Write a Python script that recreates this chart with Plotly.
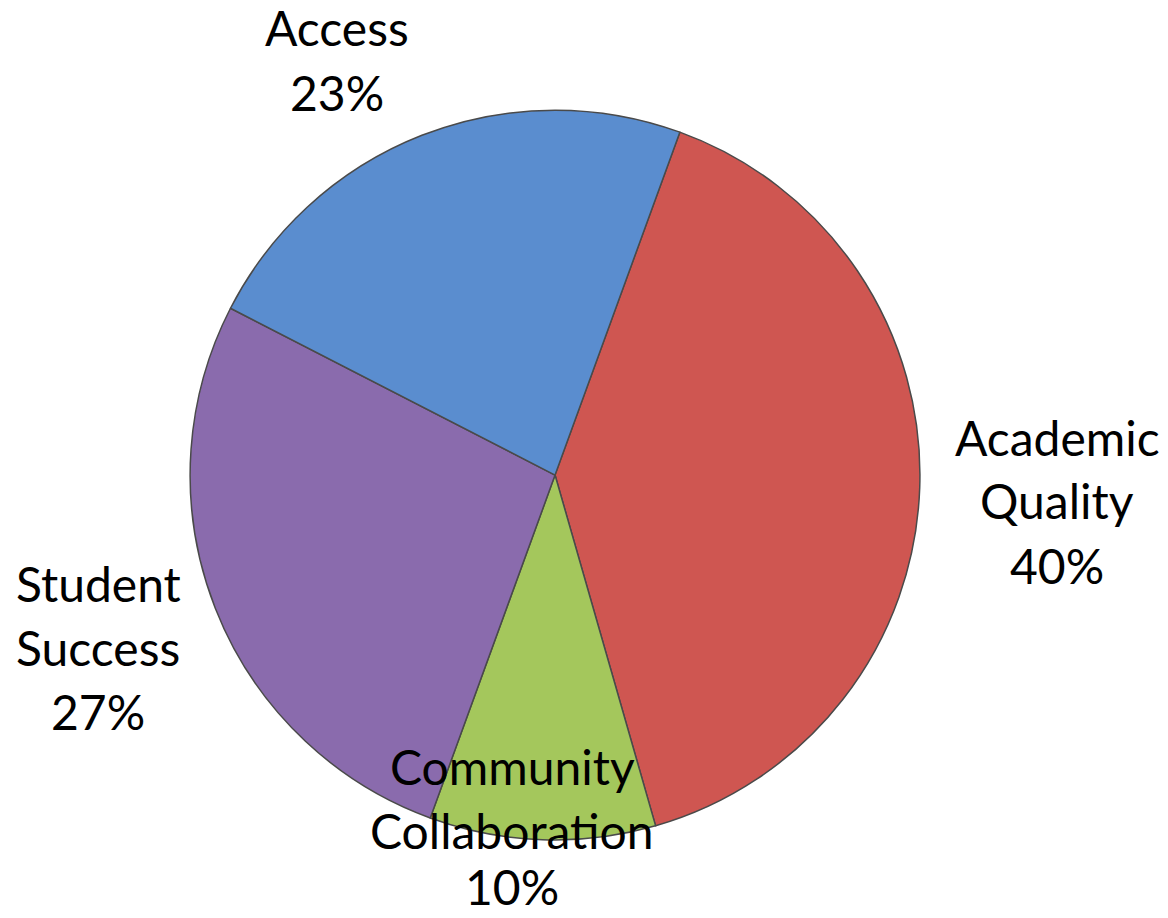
import plotly.graph_objects as go

# Share of priorities (percent), listed clockwise from the top-right
labels = ["Academic Quality", "Community Collaboration", "Student Success", "Access"]
label_lines = [["Academic", "Quality"], ["Community", "Collaboration"], ["Student", "Success"], ["Access"]]
values = [40, 10, 27, 23]
colors = ["#CF5651", "#A4C75C", "#8A6BAD", "#5A8DCF"]

W, H = 1168, 918
# Top line centre of each label block (pixels from top-left) and line pitch
label_anchor = [(1057, 437), (512, 766), (98, 583), (337, 28)]
line_pitch = 64

fig = go.Figure(
    go.Pie(
        labels=labels,
        values=values,
        sort=False,
        direction="clockwise",
        rotation=20,
        marker=dict(colors=colors, line=dict(color="#4a4a4a", width=1.5)),
        textinfo="none",
        hoverinfo="label+percent",
        domain=dict(x=[0.1627, 0.7877], y=[0.085, 0.880]),
        showlegend=False,
    )
)

annotations = []
for lines, v, (px, py) in zip(label_lines, values, label_anchor):
    for i, line in enumerate(lines + [f"{v}%"]):
        yy = min(py + i * line_pitch, H - 32)
        annotations.append(
            dict(
                x=px / W,
                y=1 - yy / H,
                xref="paper",
                yref="paper",
                text=line,
                showarrow=False,
                xanchor="center",
                yanchor="middle",
                align="center",
                font=dict(family="Lato, sans-serif", size=48, color="#000000"),
            )
        )

fig.update_layout(
    width=W,
    height=H,
    margin=dict(l=0, r=0, t=0, b=0),
    paper_bgcolor="white",
    plot_bgcolor="white",
    annotations=annotations,
)

fig.write_html("out.html")
